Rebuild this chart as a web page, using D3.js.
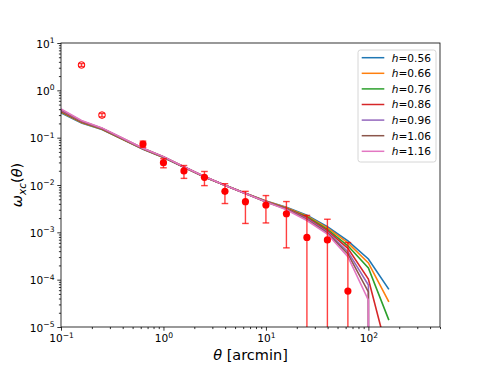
<!DOCTYPE html>
<html>
<head>
<meta charset="utf-8">
<script src="https://cdn.jsdelivr.net/npm/d3@7"></script>
<style>
  html, body { margin: 0; padding: 0; background: #fff; overflow: hidden; }
  svg { display: block; }
  text { font-family: "DejaVu Sans", sans-serif; fill: #000; }
</style>
</head>
<body>
<div id="chart"></div>
<script>
// model angles [arcmin]
const thetaModel = [0.1, 0.1585, 0.2512, 0.3981, 0.631, 1, 1.585, 2.512, 3.981, 6.31, 10, 15.85, 25.12, 39.81, 63.1, 100, 158.5]

// model curves, one per h (0 = non-positive, clipped by the log axis)
const w056 = [0.335, 0.205, 0.148, 0.092, 0.057, 0.0380, 0.0236, 0.0147, 0.0099, 0.0067, 0.0046, 0.0034, 0.0023, 0.00131, 0.00066, 0.000273, 0.0000625]
const w066 = [0.345, 0.209, 0.150, 0.093, 0.0575, 0.0383, 0.0238, 0.0148, 0.0099, 0.0067, 0.0046, 0.0033, 0.00222, 0.00124, 0.00060, 0.000225, 0.000034]
const w076 = [0.355, 0.213, 0.152, 0.094, 0.058, 0.0386, 0.0239, 0.0149, 0.0099, 0.0066, 0.0045, 0.0032, 0.00213, 0.00116, 0.00052, 0.000176, 0.000014]
const w086 = [0.365, 0.217, 0.155, 0.095, 0.0585, 0.0389, 0.0240, 0.0150, 0.0099, 0.0066, 0.0045, 0.0032, 0.00204, 0.00108, 0.00046, 0.000103, 0.0000022]
const w096 = [0.377, 0.221, 0.157, 0.096, 0.059, 0.0392, 0.0241, 0.0150, 0.0099, 0.0066, 0.0045, 0.0031, 0.00195, 0.00101, 0.00039, 0.000077, 0]
const w106 = [0.390, 0.225, 0.159, 0.097, 0.0595, 0.0395, 0.0242, 0.0151, 0.0099, 0.0066, 0.0044, 0.0031, 0.00186, 0.00096, 0.00035, 0.000055, 0]
const w116 = [0.404, 0.230, 0.161, 0.098, 0.060, 0.0398, 0.0243, 0.0151, 0.0099, 0.0066, 0.0044, 0.0030, 0.00178, 0.00092, 0.000305, 0.000037, 0]

const hLabels = ['0.56', '0.66', '0.76', '0.86', '0.96', '1.06', '1.16']
const curves = [w056, w066, w076, w086, w096, w106, w116]
const colors = ['#1f77b4', '#ff7f0e', '#2ca02c', '#d62728', '#9467bd', '#8c564b', '#e377c2']

// measurements: open points (excluded) and filled points
const thetaOpen = [0.1585, 0.2512]
const wOpen = [3.43, 0.30]
const errOpen = [0.25, 0.025]

const thetaData = [0.631, 1, 1.585, 2.512, 3.981, 6.31, 10, 15.85, 25.12, 39.81, 63.1]
const wData = [0.0735, 0.0296, 0.0198, 0.0145, 0.00736, 0.00444, 0.00378, 0.00247, 0.00078, 0.00069, 0.0000575]
const errData = [0.011, 0.0065, 0.006, 0.0048, 0.0033, 0.0029, 0.0022, 0.0020, 0.0015, 0.0012, 0.00055]

const xTicks = [0.1, 1, 10, 100]
const xTickExp = ['\u22121', '0', '1', '2']
const yTicks = [1e-5, 1e-4, 1e-3, 1e-2, 1e-1, 1, 10]
const yTickExp = ['\u22125', '\u22124', '\u22123', '\u22122', '\u22121', '0', '1']

const width = 490
const height = 368
const margin = {top: 43, right: 50, bottom: 41, left: 61}
const innerWidth = width - margin.left - margin.right
const innerHeight = height - margin.top - margin.bottom

const svg = d3.select('#chart').append('svg')
    .attr('width', width)
    .attr('height', height)

const x = d3.scaleLog().domain([0.1, 500]).range([0, innerWidth])
const y = d3.scaleLog().domain([1e-5, 10]).range([innerHeight, 0])
const yv = v => v > 0 ? y(v) : y(1e-300)

svg.append('defs').append('clipPath').attr('id', 'clip')
    .append('rect').attr('width', innerWidth).attr('height', innerHeight)

const g = svg.append('g')
    .attr('transform', `translate(${margin.left},${margin.top})`)

// minor ticks
const minorX = []
for (let d = -1; d <= 2; d++) for (let k = 2; k <= 9; k++) { const v = k * Math.pow(10, d); if (v <= 500) minorX.push(v) }
const minorY = []
for (let d = -5; d <= 0; d++) for (let k = 2; k <= 9; k++) minorY.push(k * Math.pow(10, d))

const styleAxis = sel => {
    sel.select('.domain').remove()
    sel.selectAll('text').remove()
    sel.selectAll('line').attr('stroke', '#000').attr('stroke-width', 0.8)
}

g.append('g').attr('transform', `translate(0,${innerHeight})`)
    .call(d3.axisBottom(x).tickValues(minorX).tickSize(2.1))
    .call(styleAxis)
g.append('g')
    .call(d3.axisLeft(y).tickValues(minorY).tickSize(2.1))
    .call(styleAxis)

const xAxis = g.append('g').attr('transform', `translate(0,${innerHeight})`)
    .call(d3.axisBottom(x).tickValues(xTicks).tickSize(3.7))
    .call(styleAxis)
const yAxis = g.append('g')
    .call(d3.axisLeft(y).tickValues(yTicks).tickSize(3.7))
    .call(styleAxis)

// tick labels as 10^n
xAxis.selectAll('.tick').append('text')
    .attr('y', 15)
    .attr('text-anchor', 'middle')
    .style('font-size', '10.6px')
    .each(function (d, i) {
        const t = d3.select(this)
        t.append('tspan').text('10')
        t.append('tspan').attr('dy', -4.5).style('font-size', '7.6px').text(xTickExp[i])
    })

yAxis.selectAll('.tick').append('text')
    .attr('x', -6.5)
    .attr('y', 4)
    .attr('text-anchor', 'end')
    .style('font-size', '10.6px')
    .each(function (d, i) {
        const t = d3.select(this)
        t.append('tspan').text('10')
        t.append('tspan').attr('dy', -4.5).style('font-size', '7.6px').text(yTickExp[i])
    })

// plot area
const plot = g.append('g').attr('clip-path', 'url(#clip)')

const line = d3.line()
    .x(d => x(d[0]))
    .y(d => yv(d[1]))

curves.forEach((c, i) => {
    plot.append('path')
        .datum(thetaModel.map((t, j) => [t, c[j]]))
        .attr('d', line)
        .attr('fill', 'none')
        .attr('stroke', colors[i])
        .attr('stroke-width', 1.6)
})

const drawErr = (thetas, vals, errs, cls) => {
    const eb = plot.selectAll('g.' + cls).data(thetas.map((t, i) => ({t, v: vals[i], e: errs[i]})))
        .enter().append('g').attr('class', cls)
        .attr('stroke', 'red').attr('stroke-opacity', 0.75).attr('stroke-width', 1.4)
    eb.append('line')
        .attr('x1', d => x(d.t)).attr('x2', d => x(d.t))
        .attr('y1', d => y(d.v + d.e)).attr('y2', d => yv(d.v - d.e))
    eb.append('line')
        .attr('x1', d => x(d.t) - 3.3).attr('x2', d => x(d.t) + 3.3)
        .attr('y1', d => y(d.v + d.e)).attr('y2', d => y(d.v + d.e))
    eb.filter(d => d.v - d.e > 0).append('line')
        .attr('x1', d => x(d.t) - 3.3).attr('x2', d => x(d.t) + 3.3)
        .attr('y1', d => y(d.v - d.e)).attr('y2', d => y(d.v - d.e))
}

drawErr(thetaOpen, wOpen, errOpen, 'ebo')
drawErr(thetaData, wData, errData, 'ebd')

plot.selectAll('circle.open').data(thetaOpen)
    .enter().append('circle').attr('class', 'open')
    .attr('cx', d => x(d))
    .attr('cy', (d, i) => y(wOpen[i]))
    .attr('r', 3.3)
    .attr('fill', 'none')
    .attr('stroke', 'red')
    .attr('stroke-width', 1)

plot.selectAll('circle.fill').data(thetaData)
    .enter().append('circle').attr('class', 'fill')
    .attr('cx', d => x(d))
    .attr('cy', (d, i) => y(wData[i]))
    .attr('r', 3.6)
    .attr('fill', 'red')

// frame
g.append('rect')
    .attr('width', innerWidth).attr('height', innerHeight)
    .attr('fill', 'none').attr('stroke', '#000').attr('stroke-width', 0.8)

// axis labels
g.append('text')
    .attr('x', innerWidth / 2).attr('y', innerHeight + 33)
    .attr('text-anchor', 'middle')
    .style('font-size', '14.5px')
    .call(t => {
        t.append('tspan').style('font-style', 'italic').text('\u03b8')
        t.append('tspan').text(' [arcmin]')
    })

svg.append('text')
    .attr('transform', `translate(22,${margin.top + innerHeight / 2}) rotate(-90)`)
    .attr('text-anchor', 'middle')
    .style('font-size', '14.5px')
    .call(t => {
        t.append('tspan').style('font-style', 'italic').text('\u03c9')
        t.append('tspan').attr('dy', 3.5).style('font-style', 'italic').style('font-size', '10.5px').text('xc')
        t.append('tspan').attr('dy', -3.5).text('(')
        t.append('tspan').style('font-style', 'italic').text('\u03b8')
        t.append('tspan').text(')')
    })

// legend
const legend = g.append('g').attr('transform', `translate(${358 - margin.left},${50 - margin.top})`)
legend.append('rect')
    .attr('width', 78).attr('height', 112).attr('rx', 2.5)
    .attr('fill', '#fff').attr('fill-opacity', 0.8)
    .attr('stroke', '#ccc').attr('stroke-width', 0.8)

const rows = legend.selectAll('g.row').data(hLabels)
    .enter().append('g').attr('class', 'row')
    .attr('transform', (d, i) => `translate(0,${7.7 + i * 15.6})`)
rows.append('line')
    .attr('x1', 3.7).attr('x2', 26.3)
    .attr('stroke', (d, i) => colors[i]).attr('stroke-width', 1.5)
rows.append('text')
    .attr('x', 33.7).attr('y', 3.8)
    .style('font-size', '10.6px')
    .call(t => {
        t.append('tspan').style('font-style', 'italic').text('h')
        t.append('tspan').text(d => '=' + d)
    })
</script>
</body>
</html>
